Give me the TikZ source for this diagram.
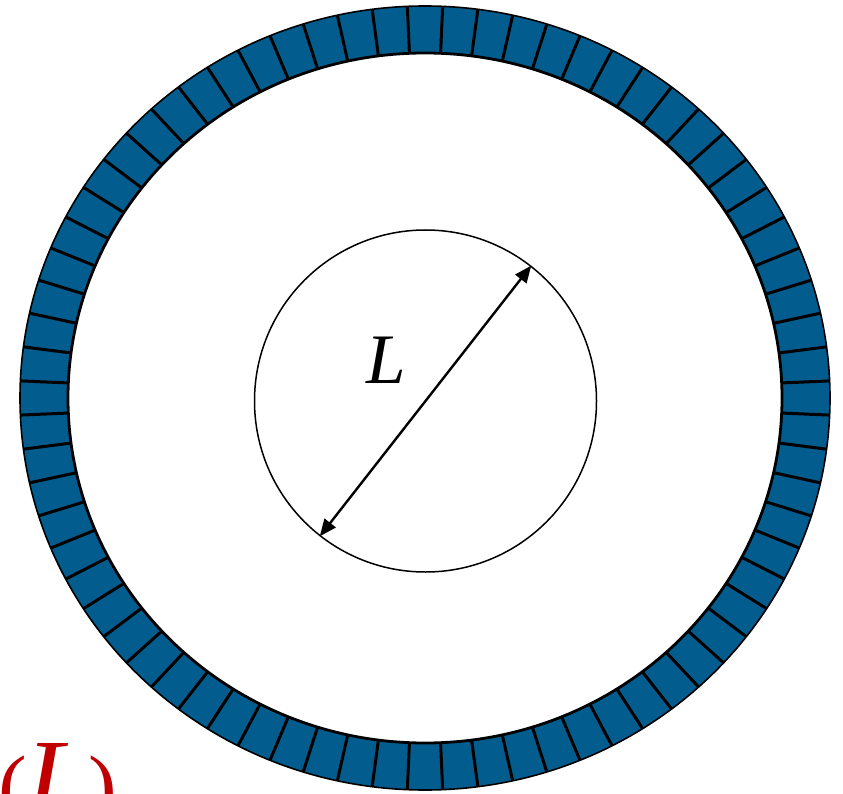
\documentclass[tikz,border=0pt]{standalone}
\usepackage{fontspec}
\setmainfont{Liberation Serif}
\usetikzlibrary{arrows.meta,calc}
\definecolor{ringblue}{RGB}{2,93,142}
\definecolor{labred}{RGB}{192,0,0}
\tikzset{
  ringfill/.style={fill=ringblue},
  divider/.style={line width=3pt, black},
  thinline/.style={line width=1.5pt, black},
  dimarrow/.style={line width=2.4pt, {Triangle[length=17pt,width=14pt]}-{Triangle[length=17pt,width=14pt]}}
}
\begin{document}
\begin{tikzpicture}[x=1pt,y=-1pt]
\useasboundingbox (0,0) rectangle (843,794);
\coordinate (C) at (425,398);
% ring
\fill[ringfill, even odd rule] (C) ellipse [x radius=405, y radius=392] (C) ellipse [x radius=357, y radius=345];
\foreach \a in {2.5,7.5,...,357.5}{
  \draw[divider] ($(C)+(\a:357 and 345)$) -- ($(C)+(\a:405 and 392)$);
}
\draw[line width=1.6pt] (C) ellipse [x radius=405, y radius=392];
\draw[line width=2.8pt] (C) ellipse [x radius=357, y radius=345];
% inner circle
\node[circle, draw, line width=1.5pt, minimum size=342pt, inner sep=0pt] (inner) at (425.5,401) {};
\draw[dimarrow] (inner.232) -- (inner.52);
\node[inner sep=0pt] (lab) at (386,360) {\fontsize{71}{71}\selectfont\itshape L};
% red label
\node[anchor=base west, inner sep=0pt, text=labred] (red) at (-2,815) {\fontsize{86}{86}\selectfont(\fontsize{110}{110}\selectfont\itshape L\fontsize{86}{86}\selectfont\upshape)};
\end{tikzpicture}
\end{document}
